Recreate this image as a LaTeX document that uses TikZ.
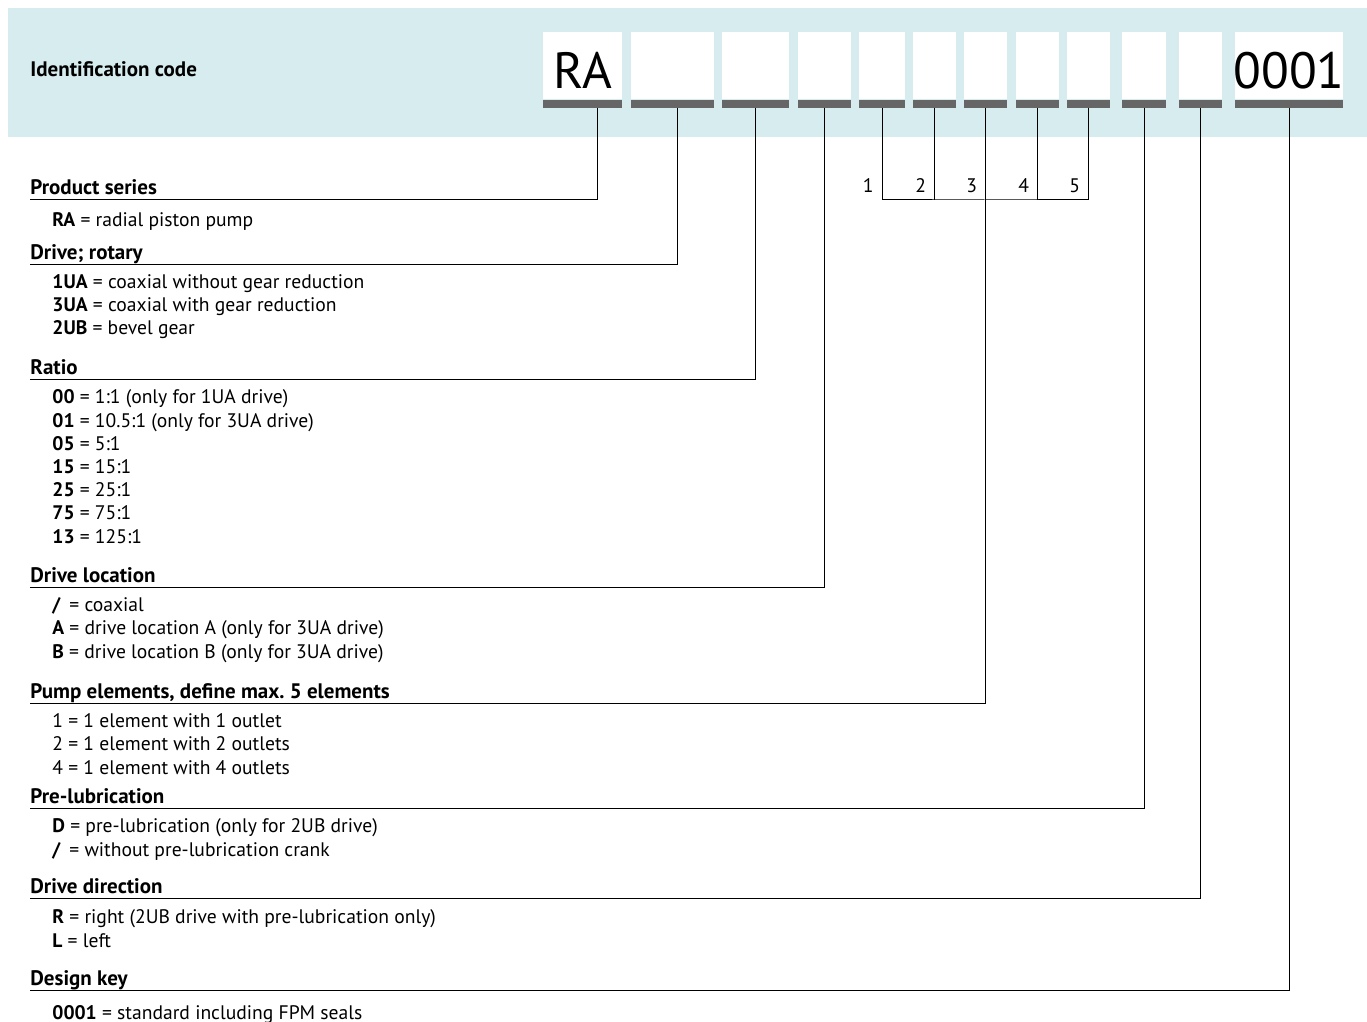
\documentclass[tikz,border=0pt]{standalone}
\usepackage{fontspec}
\setmainfont{PT Sans}
\usetikzlibrary{positioning}
\definecolor{bandcol}{RGB}{214,236,238}
\definecolor{barcol}{RGB}{102,102,102}
\frenchspacing
\tikzset{
  codebox/.style={fill=white, inner sep=0pt, minimum height=33.5pt},
  codebar/.style={fill=barcol, inner sep=0pt, minimum height=4pt},
  bigcode/.style={font=\fontsize{25.5}{26}\selectfont, inner sep=0pt},
  heading/.style={font=\fontsize{10.5}{11.6}\selectfont\bfseries, inner sep=0pt, anchor=base west},
  items/.style={font=\fontsize{9.8}{11.6}\selectfont, inner sep=0pt, anchor=base west, align=left},
  leader/.style={line width=0.5pt},
}
\begin{document}
\begin{tikzpicture}[x=0.5pt,y=-0.5pt]
  \useasboundingbox (0,0) rectangle (1367,1022);
  % code band
  \fill[bandcol] (8,8) rectangle (1367,137);
  \node[heading] (title) at (30,77) {Identification code};
  % code fields
  \foreach \n/\xl/\xr in {1/543/622,2/631/714,3/722/789,4/798/851,5/859/905,6/913/956,
      7/964/1007,8/1016/1059,9/1067/1110,10/1122/1166,11/1179/1222,12/1235/1343}{
    \pgfmathsetmacro\w{(\xr-\xl)/2}
    \node[codebox, minimum width=\w pt] (b\n) at ({(\xl+\xr)/2},65.5) {};
    \node[codebar, minimum width=\w pt, below=0pt of b\n] (k\n) {};
  }
  \node[bigcode, anchor=base] (ra) at ([yshift=5.5pt]b1.south) {RA};
  \node[bigcode, anchor=base] (key) at ([yshift=5.5pt]b12.south) {0001};
  % element numbers
  \foreach \n/\t in {5/1,6/2,7/3,8/4,9/5}
    \node[items, anchor=base east, xshift=-4pt] (e\t) at (k\n.south |- 0,192) {\t};
  % headings
  \node[heading] (h1) at (30,195) {Product series};
  \node[heading] (h2) at (30,259) {Drive; rotary};
  \node[heading] (h3) at (30,374) {Ratio};
  \node[heading] (h4) at (30,582) {Drive location};
  \node[heading] (h5) at (30,698) {Pump elements, define max. 5 elements};
  \node[heading] (h6) at (30,803) {Pre-lubrication};
  \node[heading] (h7) at (30,893) {Drive direction};
  \node[heading] (h8) at (30,985) {Design key};
  \coordinate (u1) at (30,200);
  \coordinate (u2) at (30,264);
  \coordinate (u3) at (30,379);
  \coordinate (u4) at (30,587);
  \coordinate (u5) at (30,703);
  \coordinate (u6) at (30,808);
  \coordinate (u7) at (30,898);
  \coordinate (u8) at (30,990);
  \coordinate (pj) at (985,200);
  % items (placed by their last line)
  \node[items] (i1) at (52,227) {\textbf{RA} = radial piston pump};
  \node[items] (i2) at (52,335) {\textbf{1UA} = coaxial without gear reduction\\
    \textbf{3UA} = coaxial with gear reduction\\ \textbf{2UB} = bevel gear};
  \node[items] (i3) at (52,543) {\textbf{00} = 1:1 (only for 1UA drive)\\
    \textbf{01} = 10.5:1 (only for 3UA drive)\\ \textbf{05} = 5:1\\ \textbf{15} = 15:1\\
    \textbf{25} = 25:1\\ \textbf{75} = 75:1\\ \textbf{13} = 125:1};
  \node[items] (i4) at (52,658) {\makebox[0.6em][l]{\textbf{/}} = coaxial\\
    \textbf{A} = drive location A (only for 3UA drive)\\
    \textbf{B} = drive location B (only for 3UA drive)};
  \node[items] (i5) at (52,774) {1 = 1 element with 1 outlet\\
    2 = 1 element with 2 outlets\\ 4 = 1 element with 4 outlets};
  \node[items] (i6) at (52,856) {\textbf{D} = pre-lubrication (only for 2UB drive)\\
    \makebox[0.6em][l]{\textbf{/}} = without pre-lubrication crank};
  \node[items] (i7) at (52,947) {\textbf{R} = right (2UB drive with pre-lubrication only)\\
    \textbf{L} = left};
  \node[items] (i8) at (52,1019) {\textbf{0001} = standard including FPM seals};
  % leaders
  \draw[leader] ([xshift=7.25pt]k1.south) |- (u1);
  \draw[leader] ([xshift=2.25pt]k2.south) |- (u2);
  \draw[leader] (k3.south) |- (u3);
  \draw[leader] (k4.south) |- (u4);
  \draw[leader] (k5.south) |- (pj) -| (k9.south);
  \draw[leader] (k6.south) -- (k6.south |- pj);
  \draw[leader] (k8.south) -- (k8.south |- pj);
  \draw[leader] (k7.south) |- (u5);
  \draw[leader] (k10.south) |- (u6);
  \draw[leader] (k11.south) |- (u7);
  \draw[leader] (k12.south) |- (u8);
\end{tikzpicture}
\end{document}
